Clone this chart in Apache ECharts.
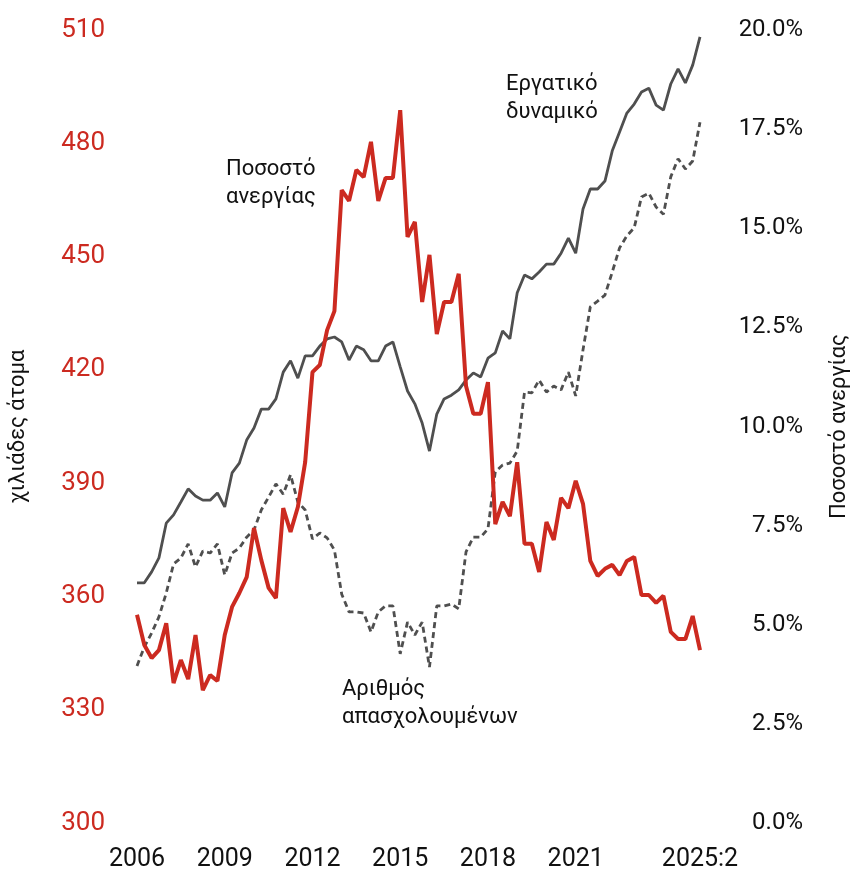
<!DOCTYPE html>
<html>
<head>
<meta charset="utf-8">
<script src="https://cdn.jsdelivr.net/npm/echarts@6/dist/echarts.min.js"></script>
<style>
  html, body { margin: 0; padding: 0; background: #fff; }
  #chart { width: 854px; height: 871px; }
</style>
</head>
<body>
<div id="chart"></div>
<script>
// quarterly categories, 2006:1 .. 2025:2
var quarters = [];
for (var yr = 2006; yr <= 2025; yr++) {
    for (var q = 1; q <= 4; q++) {
        if (yr === 2025 && q > 2) break;
        quarters.push(yr + ':' + q);
    }
}
var xTicks = ['2006:1', '2009:1', '2012:1', '2015:1', '2018:1', '2021:1', '2025:2'];

// Εργατικό δυναμικό (χιλιάδες)
var labourForce = [
    363.6, 363.6, 366.5, 370.2, 379.4, 381.6, 385.0, 388.5, 386.6, 385.5,
    385.5, 387.4, 383.7, 392.7, 395.3, 401.4, 404.6, 409.6, 409.6, 412.3,
    419.4, 422.4, 417.8, 423.7, 423.7, 426.3, 428.2, 428.7, 427.4, 422.6,
    426.3, 425.3, 422.4, 422.4, 426.3, 427.4, 420.8, 414.4, 411.0, 405.9,
    398.5, 408.3, 412.3, 413.3, 414.7, 417.3, 419.2, 418.1, 423.1, 424.5,
    430.3, 428.2, 440.4, 445.1, 444.1, 445.9, 448.0, 448.0, 450.9, 454.9,
    450.9, 462.6, 467.9, 467.9, 470.0, 478.0, 483.0, 488.0, 490.4, 493.6,
    494.6, 490.1, 488.8, 495.7, 499.7, 496.0, 500.7, 508.2
];

// Αριθμός απασχολουμένων (χιλιάδες)
var employed = [
    341.6, 346.6, 350.3, 354.6, 360.9, 368.6, 370.2, 373.9, 367.8, 372.0,
    371.5, 373.9, 365.7, 371.5, 372.8, 375.7, 377.6, 382.9, 386.3, 389.8,
    387.1, 392.2, 385.0, 382.9, 375.2, 376.8, 375.5, 372.3, 360.6, 355.9,
    355.9, 355.6, 350.6, 355.9, 357.5, 357.5, 344.8, 353.2, 349.8, 353.2,
    341.3, 357.5, 357.5, 358.0, 356.7, 371.8, 375.7, 375.7, 377.9, 393.0,
    394.8, 395.3, 398.5, 414.1, 413.9, 417.3, 414.1, 415.7, 414.7, 419.4,
    413.1, 425.3, 436.7, 438.2, 439.8, 445.9, 452.3, 455.5, 457.6, 465.8,
    466.8, 463.1, 461.2, 471.1, 475.9, 473.2, 475.3, 485.6
];

// Ποσοστό ανεργίας (%)
var unemploymentRate = [
    5.25, 4.49, 4.16, 4.36, 5.04, 3.53, 4.11, 3.63, 4.74, 3.35,
    3.73, 3.58, 4.74, 5.45, 5.80, 6.20, 7.44, 6.63, 5.93, 5.67,
    7.94, 7.34, 7.97, 9.10, 11.37, 11.55, 12.43, 12.91, 15.96, 15.69,
    16.47, 16.29, 17.18, 15.69, 16.27, 16.27, 17.98, 14.78, 15.16, 13.14,
    14.33, 12.33, 13.14, 13.14, 13.85, 11.02, 10.32, 10.32, 11.12, 7.54,
    8.10, 7.74, 9.10, 7.04, 7.04, 6.33, 7.59, 7.14, 8.20, 7.94,
    8.63, 8.05, 6.61, 6.23, 6.41, 6.51, 6.25, 6.61, 6.71, 5.75,
    5.75, 5.55, 5.73, 4.82, 4.64, 4.64, 5.22, 4.36
];

var RED = '#cc2a20';
var GREY = '#4f4f4f';
var FONT = 'Roboto';

var chart = echarts.init(document.getElementById('chart'));

var option = {
    animation: false,
    backgroundColor: '#fff',
    textStyle: { fontFamily: FONT },
    grid: { left: 137, right: 154, top: 30, bottom: 48, containLabel: false, outerBoundsMode: 'none' },
    xAxis: {
        type: 'category',
        data: quarters,
        boundaryGap: false,
        axisLine: { show: false },
        axisTick: { show: false },
        splitLine: { show: false },
        axisLabel: {
            interval: function (idx, val) { return xTicks.indexOf(val) >= 0; },
            formatter: function (val) {
                return val === '2025:2' ? val : val.split(':')[0];
            },
            color: '#111',
            fontSize: 25,
            fontFamily: FONT,
            margin: 24
        }
    },
    yAxis: [{
        type: 'value',
        min: 300,
        max: 510,
        interval: 30,
        name: 'χιλιάδες άτομα',
        nameLocation: 'middle',
        nameGap: 108,
        nameRotate: 90,
        nameTextStyle: { color: '#111', fontSize: 22, fontFamily: FONT },
        axisLine: { show: false },
        axisTick: { show: false },
        splitLine: { show: false },
        axisLabel: { color: RED, fontSize: 26, fontFamily: FONT, margin: 32 }
    }, {
        type: 'value',
        min: 0,
        max: 20,
        interval: 2.5,
        name: 'Ποσοστό ανεργίας',
        nameLocation: 'middle',
        nameGap: 128,
        nameRotate: 90,
        nameTextStyle: { color: '#111', fontSize: 22, fontFamily: FONT },
        axisLine: { show: false },
        axisTick: { show: false },
        splitLine: { show: false },
        axisLabel: {
            color: '#111',
            fontSize: 24,
            fontFamily: FONT,
            align: 'right',
            margin: 103,
            formatter: function (v) { return v.toFixed(1) + '%'; }
        }
    }],
    series: [{
        name: 'Εργατικό δυναμικό',
        type: 'line',
        yAxisIndex: 0,
        data: labourForce,
        symbol: 'none',
        lineStyle: { color: GREY, width: 2.8 }
    }, {
        name: 'Αριθμός απασχολουμένων',
        type: 'line',
        yAxisIndex: 0,
        data: employed,
        symbol: 'none',
        lineStyle: { color: GREY, width: 2.8, type: [6, 4] }
    }, {
        name: 'Ποσοστό ανεργίας',
        type: 'line',
        yAxisIndex: 1,
        data: unemploymentRate,
        symbol: 'none',
        lineStyle: { color: RED, width: 4 }
    }],
    graphic: [{
        type: 'text', left: 226, top: 155,
        style: { text: 'Ποσοστό\nανεργίας', font: '22px ' + FONT, fill: '#111', align: 'center', lineHeight: 28 }
    }, {
        type: 'text', left: 506, top: 70,
        style: { text: 'Εργατικό\nδυναμικό', font: '22px ' + FONT, fill: '#111', align: 'center', lineHeight: 28 }
    }, {
        type: 'text', left: 342, top: 675,
        style: { text: 'Αριθμός\nαπασχολουμένων', font: '22px ' + FONT, fill: '#111', align: 'center', lineHeight: 28 }
    }]
};

chart.setOption(option);
</script>
</body>
</html>
